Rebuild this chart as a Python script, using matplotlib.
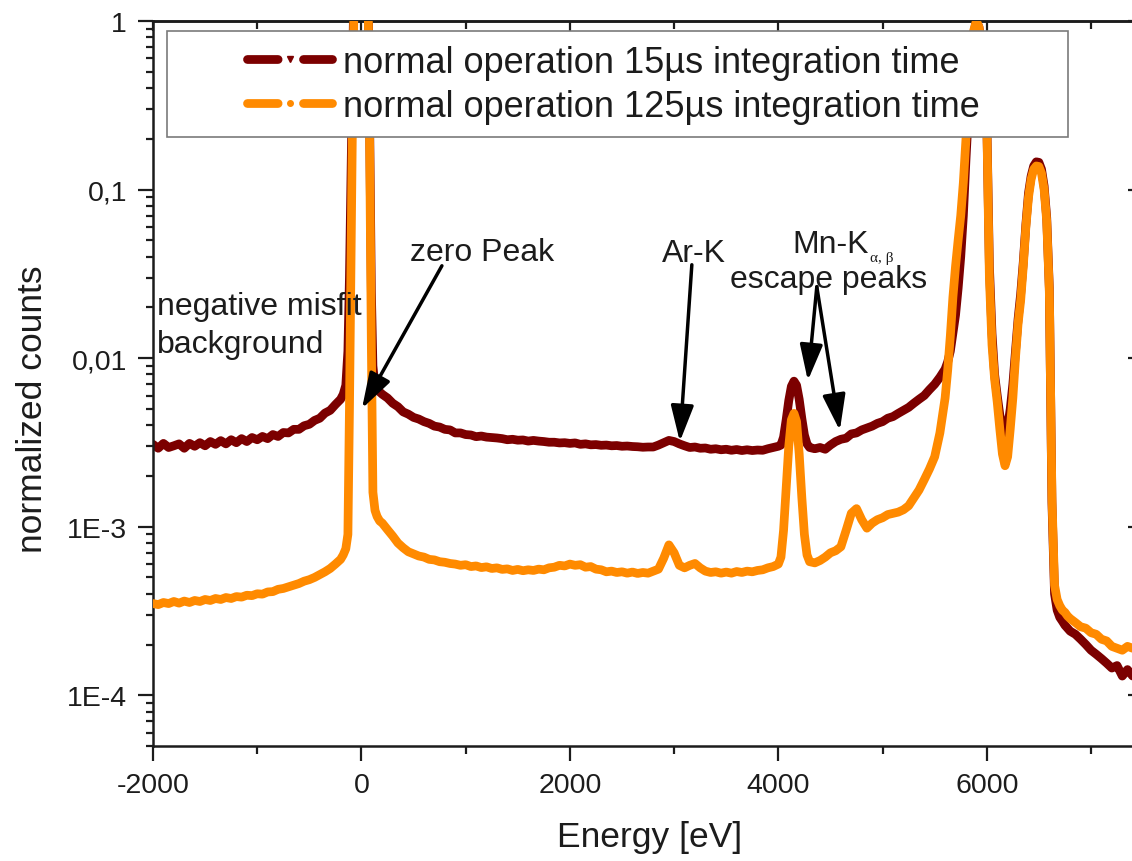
import numpy as np
import matplotlib
matplotlib.use("Agg")
import matplotlib.pyplot as plt
from matplotlib.lines import Line2D
from matplotlib.patches import Rectangle
from matplotlib.ticker import (FixedLocator, FixedFormatter, MultipleLocator,
                               LogLocator, NullFormatter, NullLocator)

plt.rcParams['font.family'] = ['Liberation Sans', 'DejaVu Sans']

# ---------------- data ----------------
energy_ev = [
    -2000, -1950, -1900, -1850, -1800, -1750, -1700, -1650, -1600, -1550,
    -1500, -1450, -1400, -1350, -1300, -1250, -1200, -1150, -1100, -1050,
    -1000, -950, -900, -850, -800, -750, -700, -650, -600, -550,
    -500, -450, -400, -350, -300, -250, -200,
    -175, -150, -130, -115, -100, -85, -70, -50, -25, 0, 25, 50, 65, 80, 95,
    110, 130, 150, 175,
    200, 250, 300, 350, 400, 450, 500, 550, 600, 650,
    700, 750, 800, 850, 900, 950, 1000, 1050, 1100, 1150,
    1200, 1250, 1300, 1350, 1400, 1450, 1500, 1550, 1600, 1650,
    1700, 1750, 1800, 1850, 1900, 1950, 2000, 2050, 2100, 2150,
    2200, 2250, 2300, 2350, 2400, 2450, 2500, 2550, 2600, 2650,
    2700, 2750, 2800, 2850, 2900, 2950, 3000, 3050, 3100, 3150,
    3200, 3250, 3300, 3350, 3400, 3450, 3500, 3550, 3600, 3650,
    3700, 3750, 3800, 3850, 3900, 3950,
    4000, 4025, 4050, 4075, 4100, 4125, 4150, 4175, 4200, 4225, 4250, 4275, 4300,
    4350, 4400, 4450, 4500, 4550, 4600, 4650, 4700, 4750, 4800,
    4850, 4900, 4950, 5000, 5050, 5100, 5150, 5200, 5250, 5300,
    5350, 5400, 5450, 5500, 5550, 5600,
    5625, 5650, 5675, 5700, 5725, 5750, 5775, 5800, 5825, 5850,
    5875, 5900, 5925, 5950, 5975, 6000, 6025, 6050, 6075, 6100,
    6125, 6150, 6175, 6200, 6225, 6250, 6275, 6300, 6325, 6350,
    6375, 6400, 6425, 6450, 6475, 6500, 6525, 6550, 6575, 6600,
    6625, 6650, 6675, 6700, 6725, 6750, 6775, 6800,
    6850, 6900, 6950, 7000, 7050, 7100, 7150, 7200, 7250, 7300, 7350, 7400,
]

counts_15us = [
    3.08e-3, 2.92e-3, 3.12e-3, 2.95e-3, 3.02e-3, 3.1e-3, 2.92e-3, 3.12e-3, 3.0e-3, 3.15e-3,
    3.02e-3, 3.2e-3, 3.08e-3, 3.24e-3, 3.1e-3, 3.28e-3, 3.15e-3, 3.33e-3, 3.2e-3, 3.38e-3,
    3.28e-3, 3.43e-3, 3.33e-3, 3.52e-3, 3.43e-3, 3.62e-3, 3.6e-3, 3.78e-3, 3.78e-3, 3.97e-3,
    4.05e-3, 4.27e-3, 4.4e-3, 4.72e-3, 4.9e-3, 5.3e-3, 5.7e-3,
    6.1e-3, 6.9e-3, 1.1e-2, 3.0e-2, 0.12, 0.5, 2.0, 7.0, 15.0, 20.0, 15.0, 4.0, 1.3, 0.2, 0.025,
    9.0e-3, 6.8e-3, 6.5e-3, 6.3e-3,
    6.1e-3, 5.8e-3, 5.4e-3, 5.15e-3, 4.8e-3, 4.65e-3, 4.45e-3, 4.35e-3, 4.2e-3, 4.1e-3,
    3.95e-3, 3.9e-3, 3.78e-3, 3.75e-3, 3.6e-3, 3.6e-3, 3.52e-3, 3.5e-3, 3.42e-3, 3.45e-3,
    3.4e-3, 3.38e-3, 3.36e-3, 3.33e-3, 3.28e-3, 3.3e-3, 3.26e-3, 3.27e-3, 3.22e-3, 3.25e-3,
    3.22e-3, 3.2e-3, 3.17e-3, 3.17e-3, 3.14e-3, 3.15e-3, 3.12e-3, 3.14e-3, 3.08e-3, 3.1e-3,
    3.06e-3, 3.07e-3, 3.04e-3, 3.05e-3, 3.02e-3, 3.03e-3, 3.0e-3, 3.01e-3, 2.99e-3, 2.98e-3,
    2.96e-3, 2.97e-3, 2.97e-3, 3.05e-3, 3.15e-3, 3.25e-3, 3.2e-3, 3.1e-3, 3.02e-3, 2.95e-3,
    2.97e-3, 2.92e-3, 2.93e-3, 2.88e-3, 2.9e-3, 2.86e-3, 2.88e-3, 2.84e-3, 2.87e-3, 2.83e-3,
    2.86e-3, 2.83e-3, 2.85e-3, 2.84e-3, 2.9e-3, 2.95e-3,
    3.0e-3, 3.05e-3, 3.4e-3, 4.3e-3, 5.6e-3, 6.8e-3, 7.3e-3, 6.9e-3, 5.7e-3, 4.4e-3, 3.5e-3, 3.1e-3, 2.95e-3,
    2.9e-3, 2.95e-3, 2.88e-3, 3.05e-3, 3.2e-3, 3.3e-3, 3.35e-3, 3.55e-3, 3.6e-3, 3.75e-3,
    3.85e-3, 3.95e-3, 4.1e-3, 4.2e-3, 4.4e-3, 4.5e-3, 4.7e-3, 4.9e-3, 5.1e-3, 5.4e-3,
    5.7e-3, 6.0e-3, 6.5e-3, 7.0e-3, 7.7e-3, 8.6e-3,
    9.5e-3, 1.1e-2, 1.4e-2, 1.8e-2, 2.6e-2, 4.0e-2, 7.0e-2, 0.15, 0.3, 0.55,
    0.85, 1.0, 0.92, 0.72, 0.47, 0.26, 0.035, 1.4e-2, 8.0e-3, 6.0e-3,
    4.6e-3, 3.9e-3, 3.6e-3, 3.9e-3, 5.0e-3, 7.0e-3, 1.1e-2, 1.7e-2, 2.4e-2, 3.7e-2,
    6.2e-2, 0.095, 0.12, 0.138, 0.146, 0.145, 0.132, 0.105, 0.068, 0.026,
    1.4e-3, 4.0e-4, 3.2e-4, 2.9e-4, 2.75e-4, 2.6e-4, 2.5e-4, 2.4e-4,
    2.3e-4, 2.15e-4, 2.0e-4, 1.85e-4, 1.75e-4, 1.65e-4, 1.55e-4, 1.45e-4, 1.5e-4, 1.3e-4, 1.42e-4, 1.3e-4,
]

counts_125us = [
    3.5e-4, 3.45e-4, 3.55e-4, 3.5e-4, 3.6e-4, 3.52e-4, 3.62e-4, 3.55e-4, 3.65e-4, 3.6e-4,
    3.7e-4, 3.65e-4, 3.75e-4, 3.7e-4, 3.8e-4, 3.75e-4, 3.85e-4, 3.82e-4, 3.92e-4, 3.9e-4,
    4.0e-4, 3.98e-4, 4.1e-4, 4.12e-4, 4.25e-4, 4.3e-4, 4.4e-4, 4.5e-4, 4.6e-4, 4.75e-4,
    4.85e-4, 5.0e-4, 5.2e-4, 5.4e-4, 5.65e-4, 6.0e-4, 6.4e-4,
    6.8e-4, 7.4e-4, 9.0e-4, 5.0e-3, 0.04, 0.3, 1.5, 6.0, 15.0, 20.0, 15.0, 4.0, 1.2, 0.15, 0.012,
    1.6e-3, 1.25e-3, 1.15e-3, 1.08e-3,
    1.05e-3, 9.6e-4, 8.8e-4, 8.0e-4, 7.5e-4, 7.1e-4, 6.9e-4, 6.7e-4, 6.6e-4, 6.4e-4,
    6.35e-4, 6.2e-4, 6.15e-4, 6.05e-4, 6.0e-4, 5.9e-4, 5.95e-4, 5.8e-4, 5.85e-4, 5.72e-4,
    5.78e-4, 5.65e-4, 5.7e-4, 5.58e-4, 5.62e-4, 5.5e-4, 5.58e-4, 5.48e-4, 5.55e-4, 5.5e-4,
    5.6e-4, 5.55e-4, 5.7e-4, 5.75e-4, 5.9e-4, 5.85e-4, 6.0e-4, 5.9e-4, 5.95e-4, 5.75e-4,
    5.8e-4, 5.6e-4, 5.55e-4, 5.4e-4, 5.45e-4, 5.35e-4, 5.4e-4, 5.3e-4, 5.38e-4, 5.28e-4,
    5.35e-4, 5.3e-4, 5.45e-4, 5.6e-4, 6.5e-4, 7.8e-4, 7.0e-4, 5.9e-4, 5.7e-4, 5.9e-4,
    6.05e-4, 5.7e-4, 5.45e-4, 5.35e-4, 5.4e-4, 5.3e-4, 5.38e-4, 5.3e-4, 5.42e-4, 5.35e-4,
    5.45e-4, 5.4e-4, 5.5e-4, 5.55e-4, 5.7e-4, 5.8e-4,
    6.0e-4, 6.6e-4, 9.5e-4, 1.7e-3, 3.0e-3, 4.3e-3, 4.7e-3, 4.2e-3, 2.7e-3, 1.5e-3, 9.0e-4, 6.8e-4, 6.2e-4,
    6.1e-4, 6.3e-4, 6.6e-4, 7.0e-4, 7.2e-4, 7.6e-4, 9.5e-4, 1.2e-3, 1.28e-3, 1.1e-3,
    9.8e-4, 1.05e-3, 1.1e-3, 1.13e-3, 1.18e-3, 1.2e-3, 1.22e-3, 1.26e-3, 1.33e-3, 1.48e-3,
    1.65e-3, 1.9e-3, 2.2e-3, 2.6e-3, 3.6e-3, 5.8e-3,
    8.5e-3, 1.35e-2, 2.3e-2, 3.5e-2, 5.0e-2, 7.0e-2, 0.11, 0.2, 0.36, 0.6,
    0.88, 1.0, 0.92, 0.7, 0.45, 0.25, 0.03, 1.2e-2, 7.5e-3, 5.5e-3,
    3.8e-3, 2.7e-3, 2.3e-3, 2.6e-3, 3.8e-3, 5.8e-3, 1.0e-2, 1.6e-2, 2.2e-2, 3.5e-2,
    6.0e-2, 0.09, 0.115, 0.132, 0.138, 0.137, 0.125, 0.1, 0.065, 0.025,
    1.5e-3, 4.5e-4, 3.7e-4, 3.4e-4, 3.2e-4, 3.1e-4, 2.95e-4, 2.85e-4,
    2.7e-4, 2.55e-4, 2.5e-4, 2.35e-4, 2.3e-4, 2.15e-4, 2.1e-4, 1.95e-4, 1.9e-4, 1.85e-4, 1.95e-4, 1.9e-4,
]

series_labels = ["normal operation 15µs integration time",
                 "normal operation 125µs integration time"]
xtick_values = [-2000, 0, 2000, 4000, 6000]
xtick_labels = ["-2000", "0", "2000", "4000", "6000"]
ytick_values = [1e-4, 1e-3, 1e-2, 1e-1, 1]
ytick_labels = ["1E-4", "1E-3", "0,01", "0,1", "1"]

assert len(energy_ev) == len(counts_15us) == len(counts_125us)

# ---------------- style ----------------
MAROON = "#7c0000"
ORANGE = "#ff8a00"
INK = "#1c1c1c"
LW = 6.3

W, H = 1132, 862
fig = plt.figure(figsize=(W / 100, H / 100), dpi=100)


def fx(px):
    return px / W


def fy(py):
    return 1 - py / H


ax = fig.add_axes([fx(153), fy(747), fx(1140) - fx(153), fy(22) - fy(747)])

ax.plot(energy_ev, counts_15us, color=MAROON, lw=LW, solid_joinstyle="round",
        solid_capstyle="round", zorder=2)
ax.plot(energy_ev, counts_125us, color=ORANGE, lw=LW, solid_joinstyle="round",
        solid_capstyle="round", zorder=3)

ax.set_yscale("log")

# ticks
ax.xaxis.set_major_locator(FixedLocator(xtick_values))
ax.xaxis.set_major_formatter(FixedFormatter(xtick_labels))
ax.xaxis.set_minor_locator(MultipleLocator(1000))
ax.yaxis.set_major_locator(FixedLocator(ytick_values))
ax.yaxis.set_major_formatter(FixedFormatter(ytick_labels))
ax.yaxis.set_minor_locator(LogLocator(base=10, subs=np.arange(2, 10), numticks=30))
ax.yaxis.set_minor_formatter(NullFormatter())

ax.tick_params(which="both", direction="out", top=False, right=False,
               width=1.6, color=INK, labelcolor=INK)
ax.tick_params(which="major", length=10.8)
ax.tick_params(which="minor", length=5.4)
ax.tick_params(axis="x", which="major", pad=8, labelsize=20.5)
ax.tick_params(axis="y", which="major", pad=8, labelsize=20.5)

for s in ax.spines.values():
    s.set_linewidth(1.8)
    s.set_color(INK)

secx = ax.secondary_xaxis("top")
secx.xaxis.set_major_locator(FixedLocator(xtick_values))
secx.xaxis.set_minor_locator(MultipleLocator(1000))
secx.xaxis.set_major_formatter(NullFormatter())
secx.tick_params(which="both", direction="in", width=1.6, color=INK, labeltop=False)
secx.tick_params(which="major", length=7)
secx.tick_params(which="minor", length=6)
secx.spines["top"].set_linewidth(1.8)
secx.spines["top"].set_color(INK)

secy = ax.secondary_yaxis("right")
secy.yaxis.set_major_locator(FixedLocator(ytick_values))
secy.yaxis.set_minor_locator(NullLocator())
secy.yaxis.set_major_formatter(NullFormatter())
secy.tick_params(which="major", direction="in", length=9, width=1.6, color=INK,
                 labelright=False)

# axis labels
ax.set_xlabel("Energy [eV]", fontsize=25.5, color=INK)
ax.xaxis.set_label_coords(0.503, -0.102)
ax.set_ylabel("normalized counts", fontsize=25.5, color=INK)
ax.yaxis.set_label_coords(-0.1049, 0.466)

# legend with a white box
rect = Rectangle((fx(167), fy(138)), fx(1068) - fx(167), fy(32) - fy(138),
                 transform=fig.transFigure, facecolor="white", edgecolor="#7a7a7a",
                 lw=1.2, zorder=4)
ax.add_patch(rect)
rect.set_clip_on(False)

handles = [
    Line2D([], [], color=MAROON, lw=LW, linestyle=(0, (3.5, 2.9)),
           dash_capstyle="round", marker="v", markersize=4.5,
           markerfacecolor=MAROON, markeredgecolor=MAROON),
    Line2D([], [], color=ORANGE, lw=LW, linestyle=(0, (3.5, 2.9)),
           dash_capstyle="round", marker="o", markersize=4.0,
           markerfacecolor=ORANGE, markeredgecolor=ORANGE),
]
leg = ax.legend(handles, series_labels, loc="upper left",
                bbox_to_anchor=(fx(247), fy(46)), bbox_transform=fig.transFigure,
                frameon=False, borderpad=0, borderaxespad=0,
                handlelength=85 / 36.1, handletextpad=11 / 36.1,
                labelspacing=0.24, fontsize=26, numpoints=1)
for t in leg.get_texts():
    t.set_color(INK)
leg.set_zorder(5)

# annotations
TXT = 23
ax.text(465, 0.0383, "zero Peak", fontsize=TXT, color=INK, ha="left", va="baseline", zorder=6)
ax.text(2882, 0.0378, "Ar-K", fontsize=TXT, color=INK, ha="left", va="baseline", zorder=6)
ax.text(4139, 0.0428, "Mn-K", fontsize=TXT, color=INK, ha="left", va="baseline", zorder=6)
ax.text(4878, 0.0375, "α, β", fontsize=11, color=INK, ha="left", va="baseline",
        family=["Liberation Serif", "DejaVu Serif"], zorder=6)
ax.text(3535, 0.0265, "escape peaks", fontsize=TXT, color=INK, ha="left", va="baseline", zorder=6)
ax.text(-1966, 0.01093, "negative misfit\nbackground", fontsize=TXT, color=INK,
        ha="left", va="baseline", linespacing=1.32, zorder=6)

arrow_kw = dict(arrowstyle="-|>,head_length=1.1,head_width=0.35", mutation_scale=20,
                lw=2.5, color="black", shrinkA=0, shrinkB=0)
for tip, tail in [((5, 5.02e-3), (772, 0.0353)),
                  ((3055, 3.2e-3), (3170, 0.0358)),
                  ((4283, 7.36e-3), (4369, 0.0265)),
                  ((4590, 3.72e-3), (4369, 0.0265))]:
    ax.annotate("", xy=tip, xytext=tail, arrowprops=arrow_kw, zorder=6)

ax.set_xlim(-2000, 7470)
ax.set_ylim(5e-5, 1)

fig.savefig("out.png", dpi=100)
